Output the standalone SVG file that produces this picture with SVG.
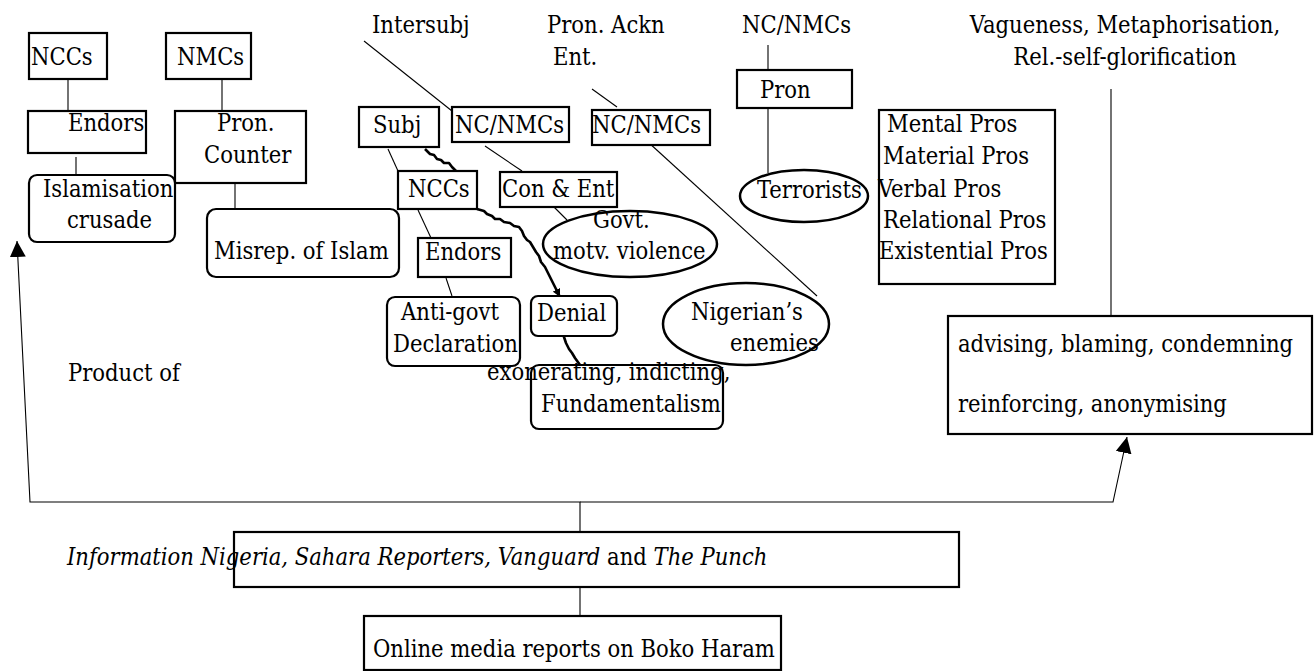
<svg xmlns="http://www.w3.org/2000/svg" width="1316" height="671" viewBox="0 0 1316 671">
<style>
text{font-family:'DejaVu Serif Condensed','Liberation Serif','Times New Roman',serif;font-stretch:condensed;font-size:23.5px;fill:#000}
.b{fill:#fff;stroke:#000;stroke-width:2.2}
.e{fill:none;stroke:#000;stroke-width:2.5}
.l{fill:none;stroke:#000;stroke-width:1.1}
.w{fill:none;stroke:#000;stroke-width:2.6;stroke-linejoin:round}
.i{font-style:italic}
</style>
<defs>
<marker id="ah" markerWidth="16" markerHeight="16" viewBox="0 0 16 16" refX="16" refY="8" orient="auto" markerUnits="userSpaceOnUse">
<path d="M0,0 L16,8 L0,16 z" fill="#000"/>
</marker>
<marker id="sa" markerWidth="8" markerHeight="8" viewBox="0 0 8 8" refX="8" refY="4" orient="auto" markerUnits="userSpaceOnUse">
<path d="M0,0 L8,4 L0,8 z" fill="#000"/>
</marker>
</defs>
<g id="connectors">
<line class="l" x1="68" y1="79" x2="68" y2="111"/>
<line class="l" x1="222" y1="79" x2="222" y2="111"/>
<line class="l" x1="76" y1="157" x2="76" y2="175"/>
<line class="l" x1="235" y1="183" x2="235" y2="208"/>
<line class="l" x1="364" y1="41" x2="452" y2="111"/>
<line class="l" x1="592" y1="89" x2="617" y2="107"/>
<line class="l" x1="388" y1="149" x2="398" y2="171"/>
<line class="l" x1="485" y1="146" x2="522" y2="171"/>
<line class="l" x1="550" y1="203" x2="567" y2="220"/>
<line class="l" x1="648" y1="142" x2="817" y2="296"/>
<line class="l" x1="418" y1="210" x2="431" y2="238"/>
<line class="l" x1="446" y1="278" x2="452" y2="296"/>
<line class="l" x1="768" y1="45" x2="768" y2="70"/>
<line class="l" x1="768" y1="108" x2="768" y2="173"/>
<line class="l" x1="1111" y1="89" x2="1111" y2="316"/>
<polyline class="w" points="425,149 430,154 434,155 437,159 441,160 444,163 449,163 452,167 457,172"/>
<polyline class="w" points="477,209 484,211 487,214 492,216 495,219 500,219 504,222 510,223 514,226 519,227 522,231 524,236 527,240 530,242 533,247 536,252 539,256 541,262 545,267 548,273 551,279 554,285 557,291 560,297" marker-end="url(#sa)"/>
<polyline class="w" points="563,334 566,343 569,349 572,353 575,358 580,365"/>
<polyline class="l" points="580,532 580,502 30,502 17,241" marker-end="url(#ah)"/>
<polyline class="l" points="580,502 1113,502 1127,437" marker-end="url(#ah)"/>
<line class="l" x1="580" y1="587" x2="580" y2="616"/>
</g>
<g id="n-nccs1"><rect class="b" x="29" y="33" width="78" height="46"/><text x="31" y="65">NCCs</text></g>
<g id="n-nmcs"><rect class="b" x="166" y="33" width="85" height="46"/><text x="177" y="65">NMCs</text></g>
<g id="n-endors1"><rect class="b" x="28" y="111" width="118" height="42"/><text x="68" y="131">Endors</text></g>
<g id="n-proncounter"><rect class="b" x="175" y="111" width="131" height="72"/><text x="217" y="131">Pron.</text><text x="204" y="163">Counter</text></g>
<g id="n-islamisation"><rect class="b" x="29" y="175" width="146" height="67" rx="8"/><text x="43" y="197">Islamisation</text><text x="67" y="228">crusade</text></g>
<g id="n-misrep"><rect class="b" x="207" y="209" width="192" height="68" rx="9"/><text x="214" y="259">Misrep. of Islam</text></g>
<g id="n-intersubj"><text x="372" y="33">Intersubj</text></g>
<g id="n-pronackn"><text x="547" y="33">Pron. Ackn</text><text x="553" y="65">Ent.</text></g>
<g id="n-subj"><rect class="b" x="359" y="107" width="80" height="40"/><text x="373" y="133">Subj</text></g>
<g id="n-ncnmcs1"><rect class="b" x="452" y="107" width="117" height="35"/><text x="455" y="133">NC/NMCs</text></g>
<g id="n-ncnmcs2"><rect class="b" x="592" y="110" width="118" height="35"/><text x="592" y="133">NC/NMCs</text></g>
<g id="n-nccs2"><rect class="b" x="398" y="171" width="79" height="38"/><text x="408" y="197">NCCs</text></g>
<g id="n-conent"><rect class="b" x="500" y="172" width="117" height="35"/><text x="502" y="197">Con &amp; Ent</text></g>
<g id="n-govt"><ellipse class="e" cx="630" cy="244" rx="87" ry="33"/><text x="593" y="228">Govt.</text><text x="553" y="259">motv. violence</text></g>
<g id="n-endors2"><rect class="b" x="418" y="238" width="93" height="39"/><text x="425" y="260">Endors</text></g>
<g id="n-antigovt"><rect class="b" x="387" y="297" width="133" height="69" rx="8"/><text x="401" y="320">Anti-govt</text><text x="393" y="352">Declaration</text></g>
<g id="n-denial"><rect class="b" x="531" y="296" width="86" height="40" rx="7"/><text x="537" y="321">Denial</text></g>
<g id="n-fundamentalism"><rect class="b" x="531" y="365" width="192" height="64" rx="8"/><text x="487" y="380">exonerating, indicting,</text><text x="541" y="412">Fundamentalism</text></g>
<g id="n-nigerians"><ellipse class="e" cx="746" cy="324" rx="83" ry="41"/><text x="691" y="320">Nigerian’s</text><text x="730" y="351">enemies</text></g>
<g id="n-ncnmcs3"><text x="742" y="33">NC/NMCs</text></g>
<g id="n-pron"><rect class="b" x="737" y="70" width="115" height="38"/><text x="760" y="98">Pron</text></g>
<g id="n-terrorists"><ellipse class="e" cx="804" cy="196" rx="64" ry="26"/><text x="757" y="198">Terrorists</text></g>
<g id="n-pros"><rect class="b" x="879" y="110" width="176" height="174"/><text x="887" y="132">Mental Pros</text><text x="883" y="164">Material Pros</text><text x="878" y="197">Verbal Pros</text><text x="883" y="228">Relational Pros</text><text x="879" y="259">Existential Pros</text></g>
<g id="n-vagueness"><text x="1125" y="33" text-anchor="middle">Vagueness, Metaphorisation,</text><text x="1125" y="65" text-anchor="middle">Rel.-self-glorification</text></g>
<g id="n-advising"><rect class="b" x="948" y="316" width="364" height="118"/><text x="958" y="352">advising, blaming, condemning</text><text x="958" y="412">reinforcing, anonymising</text></g>
<g id="n-product"><text x="68" y="381">Product of</text></g>
<g id="n-information"><rect class="b" x="234" y="532" width="725" height="55"/><text x="67" y="565"><tspan class="i">Information Nigeria, Sahara Reporters, Vanguard</tspan> and <tspan class="i">The Punch</tspan></text></g>
<g id="n-online"><rect class="b" x="364" y="616" width="417" height="54"/><text x="373" y="657">Online media reports on Boko Haram</text></g>
</svg>
